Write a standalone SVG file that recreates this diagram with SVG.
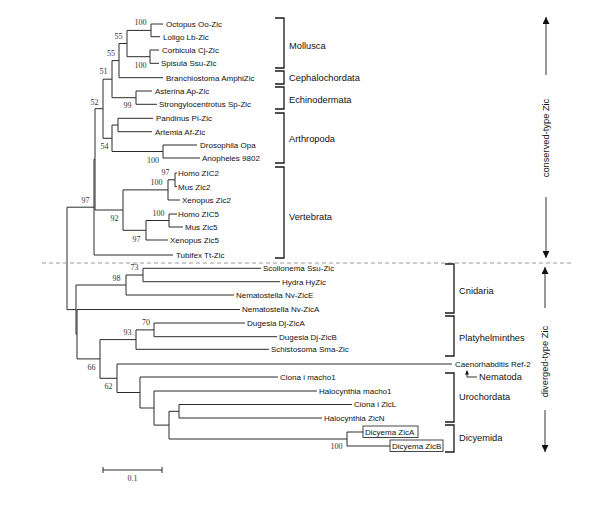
<svg xmlns="http://www.w3.org/2000/svg" width="600" height="512" viewBox="0 0 600 512">
<style>
.br{fill:none;stroke:#2a2a2a;stroke-width:1}
.bk{fill:none;stroke:#1a1a1a;stroke-width:1.3}
.lf{font-family:"Liberation Sans",Arial,sans-serif;font-size:8px;fill:#111}
.bs{font-family:"Liberation Serif","Times New Roman",serif;font-size:8px;fill:#333;text-anchor:middle}
.gp{font-family:"Liberation Sans",Arial,sans-serif;font-size:9.3px;fill:#111}
.ar{fill:none;stroke:#333;stroke-width:1}
.box{fill:#fff;stroke:#333;stroke-width:0.9}
</style>
<defs>
<marker id="ah" viewBox="0 0 10 10" refX="10" refY="5" markerWidth="9" markerHeight="7" markerUnits="userSpaceOnUse" orient="auto"><path d="M0,0 L10,5 L0,10 z" fill="#111"/></marker>
<marker id="ahs" viewBox="0 0 10 10" refX="10" refY="5" markerWidth="5" markerHeight="4" markerUnits="userSpaceOnUse" orient="auto"><path d="M0,0 L10,5 L0,10 z" fill="#111"/></marker>
</defs>
<rect width="600" height="512" fill="#fff"/>

<g id="connectors">
<!-- conserved clade -->
<path class="br" d="M151,24 V36.7 M151,24 H163 M151,36.7 H160"/>
<path class="br" d="M150,50 V63.3 M150,50 H159 M150,63.3 H159"/>
<path class="br" d="M127,30.4 V56.7 M127,30.4 H151 M127,56.7 H150"/>
<path class="br" d="M119,43.5 V77.7 M119,43.5 H127 M119,77.7 H163"/>
<path class="br" d="M136,91 V104.3 M136,91 H152 M136,104.3 H157"/>
<path class="br" d="M112,60.6 V97.7 M112,60.6 H119 M112,97.7 H136"/>
<path class="br" d="M118,118.3 V131.7 M118,118.3 H153 M118,131.7 H152"/>
<path class="br" d="M163,145 V158 M163,145 H197 M163,158 H200"/>
<path class="br" d="M112,125 V151.5 M112,125 H118 M112,151.5 H163"/>
<path class="br" d="M103,79.2 V138.3 M103,79.2 H112 M103,138.3 H112"/>
<path class="br" d="M175,173 V186.7 M175,173 H177 M175,186.7 H177"/>
<path class="br" d="M168,179.8 V200 M168,179.8 H175 M168,200 H180"/>
<path class="br" d="M169,214 V227 M169,214 H177 M169,227 H183"/>
<path class="br" d="M146,220.5 V240 M146,220.5 H169 M146,240 H168"/>
<path class="br" d="M123,189.9 V230.3 M123,189.9 H168 M123,230.3 H146"/>
<path class="br" d="M95,108.7 V210 M95,108.7 H103 M95,210 H123"/>
<path class="br" d="M94,159.4 V255 M94,159.4 H95 M94,255 H173"/>
<path class="br" d="M67,207.2 V309.6 M67,207.2 H94 M67,309.6 H76"/>
<!-- diverged clade -->
<path class="br" d="M143,268.3 V281.7 M143,268.3 H261 M143,281.7 H280"/>
<path class="br" d="M126,275 V295 M126,275 H143 M126,295 H234"/>
<path class="br" d="M154,323 V336.7 M154,323 H245 M154,336.7 H277"/>
<path class="br" d="M136,329.9 V349.3 M136,329.9 H154 M136,349.3 H269"/>
<path class="br" d="M179,404.5 V418 M179,404.5 H352 M179,418 H322"/>
<path class="br" d="M169,411.3 V439 M169,411.3 H179 M169,439 H347"/>
<path class="br" d="M347,432 V446 M347,432 H363 M347,446 H390"/>
<path class="br" d="M154,391 V425.1 M154,391 H317 M154,425.1 H169"/>
<path class="br" d="M140,377 V408 M140,377 H278 M140,408 H154"/>
<path class="br" d="M117,364 V392.5 M117,364 H452 M117,392.5 H140"/>
<path class="br" d="M100,339.6 V378.3 M100,339.6 H136 M100,378.3 H117"/>
<path class="br" d="M77,309.5 V358.9 M77,309.5 H240 M77,358.9 H100"/>
<path class="br" d="M76,285 V334.2 M76,285 H126 M76,334.2 H77"/>
<!-- divider -->
<line x1="42" y1="263" x2="573" y2="263" stroke="#9a9a9a" stroke-width="1" stroke-dasharray="4 3"/>
<!-- Nematoda pointer -->
<path class="ar" d="M477,377 H467 V370.5" marker-end="url(#ahs)"/>
<!-- type arrows -->
<line class="ar" x1="546" y1="75" x2="546" y2="17" marker-end="url(#ah)"/>
<line class="ar" x1="546" y1="197" x2="546" y2="258" marker-end="url(#ah)"/>
<line class="ar" x1="545" y1="308" x2="545" y2="267" marker-end="url(#ah)"/>
<line class="ar" x1="545" y1="410" x2="545" y2="452" marker-end="url(#ah)"/>
</g>

<g id="bootstrap">
<text class="bs" x="140.5" y="25.4">100</text>
<text class="bs" x="118.5" y="39.4">55</text>
<text class="bs" x="111" y="56">55</text>
<text class="bs" x="140.5" y="67.7">100</text>
<text class="bs" x="103.5" y="74.4">51</text>
<text class="bs" x="127.5" y="108.4">99</text>
<text class="bs" x="94.5" y="105.4">52</text>
<text class="bs" x="104.5" y="149.4">54</text>
<text class="bs" x="153" y="163.4">100</text>
<text class="bs" x="165.5" y="175.4">97</text>
<text class="bs" x="156.5" y="185.4">100</text>
<text class="bs" x="85.5" y="203.4">97</text>
<text class="bs" x="114.5" y="221">92</text>
<text class="bs" x="158.5" y="216">100</text>
<text class="bs" x="136.5" y="241.7">97</text>
<text class="bs" x="134.5" y="270.4">73</text>
<text class="bs" x="116.5" y="281">98</text>
<text class="bs" x="146" y="325.4">70</text>
<text class="bs" x="127.5" y="335.4">93</text>
<text class="bs" x="91.5" y="370">66</text>
<text class="bs" x="108.5" y="388.7">62</text>
<text class="bs" x="336.5" y="449.4">100</text>
</g>

<g id="leaf-octopus"><text class="lf" x="166" y="26.9">Octopus Oo-Zic</text></g>
<g id="leaf-loligo"><text class="lf" x="163" y="39.6">Loligo Lb-Zic</text></g>
<g id="leaf-corbicula"><text class="lf" x="162" y="52.9">Corbicula Cj-Zic</text></g>
<g id="leaf-spisula"><text class="lf" x="161" y="66.2">Spisula Ssu-Zic</text></g>
<g id="leaf-branchiostoma"><text class="lf" x="166" y="80.6">Branchiostoma AmphiZic</text></g>
<g id="leaf-asterina"><text class="lf" x="155" y="93.9">Asterina Ap-Zic</text></g>
<g id="leaf-strongylocentrotus"><text class="lf" x="159" y="107.2">Strongylocentrotus Sp-Zic</text></g>
<g id="leaf-pandinus"><text class="lf" x="156" y="121.2">Pandinus Pi-Zic</text></g>
<g id="leaf-artemia"><text class="lf" x="155" y="134.6">Artemia Af-Zic</text></g>
<g id="leaf-drosophila"><text class="lf" x="200" y="147.9">Drosophila Opa</text></g>
<g id="leaf-anopheles"><text class="lf" x="202" y="160.9">Anopheles 9802</text></g>
<g id="leaf-homo-zic2"><text class="lf" x="178" y="175.9">Homo ZIC2</text></g>
<g id="leaf-mus-zic2"><text class="lf" x="178" y="189.6">Mus Zic2</text></g>
<g id="leaf-xenopus-zic2"><text class="lf" x="182" y="202.9">Xenopus Zic2</text></g>
<g id="leaf-homo-zic5"><text class="lf" x="178" y="216.9">Homo ZIC5</text></g>
<g id="leaf-mus-zic5"><text class="lf" x="185" y="229.9">Mus Zic5</text></g>
<g id="leaf-xenopus-zic5"><text class="lf" x="170" y="242.9">Xenopus Zic5</text></g>
<g id="leaf-tubifex"><text class="lf" x="176" y="257.9">Tubifex Tt-Zic</text></g>

<g id="leaf-scolionema"><text class="lf" x="263" y="271.2">Scolionema Ssu-Zic</text></g>
<g id="leaf-hydra"><text class="lf" x="282" y="284.6">Hydra HyZic</text></g>
<g id="leaf-nematostella-e"><text class="lf" x="236" y="297.9">Nematostella Nv-ZicE</text></g>
<g id="leaf-nematostella-a"><text class="lf" x="242" y="312.4">Nematostella Nv-ZicA</text></g>
<g id="leaf-dugesia-a"><text class="lf" x="247" y="325.9">Dugesia Dj-ZicA</text></g>
<g id="leaf-dugesia-b"><text class="lf" x="279" y="339.6">Dugesia Dj-ZicB</text></g>
<g id="leaf-schistosoma"><text class="lf" x="271" y="352.2">Schistosoma Sma-Zic</text></g>
<g id="leaf-caenorhabditis"><text class="lf" x="455" y="366.9">Caenorhabditis Ref-2</text></g>
<g id="leaf-ciona-macho1"><text class="lf" x="280" y="379.9">Ciona i macho1</text></g>
<g id="leaf-halocynthia-macho1"><text class="lf" x="319" y="393.9">Halocynthia macho1</text></g>
<g id="leaf-ciona-zicl"><text class="lf" x="354" y="407.4">Ciona i ZicL</text></g>
<g id="leaf-halocynthia-zicn"><text class="lf" x="324" y="420.9">Halocynthia ZicN</text></g>
<g id="leaf-dicyema-a"><rect class="box" x="363" y="426" width="55" height="11.5"/><text class="lf" x="365" y="434.9">Dicyema ZicA</text></g>
<g id="leaf-dicyema-b"><rect class="box" x="390" y="440" width="53" height="11.5"/><text class="lf" x="392" y="448.9">Dicyema ZicB</text></g>

<g id="group-mollusca"><path class="bk" d="M275,18 H284 V68 H275"/><text class="gp" x="289" y="49">Mollusca</text></g>
<g id="group-cephalochordata"><path class="bk" d="M275,71 H284 V84 H275"/><text class="gp" x="289" y="81.3">Cephalochordata</text></g>
<g id="group-echinodermata"><path class="bk" d="M275,87 H284 V109 H275"/><text class="gp" x="289" y="102.6">Echinodermata</text></g>
<g id="group-arthropoda"><path class="bk" d="M275,113 H284 V163 H275"/><text class="gp" x="289" y="142.3">Arthropoda</text></g>
<g id="group-vertebrata"><path class="bk" d="M275,167 H284 V258 H275"/><text class="gp" x="289" y="220.3">Vertebrata</text></g>
<g id="group-cnidaria"><path class="bk" d="M445,264 H454 V313 H445"/><text class="gp" x="459" y="294.3">Cnidaria</text></g>
<g id="group-platyhelminthes"><path class="bk" d="M445,316 H454 V356 H445"/><text class="gp" x="459" y="341.3">Platyhelminthes</text></g>
<g id="group-nematoda"><text class="gp" x="479" y="380">Nematoda</text></g>
<g id="group-urochordata"><path class="bk" d="M445,373 H454 V422 H445"/><text class="gp" x="459" y="400.3">Urochordata</text></g>
<g id="group-dicyemida"><path class="bk" d="M445,425 H454 V452 H445"/><text class="gp" x="459" y="441.3">Dicyemida</text></g>

<g id="type-conserved"><text class="gp" transform="translate(546,138) rotate(-90)" text-anchor="middle" y="3.3">conserved-type Zic</text></g>
<g id="type-diverged"><text class="gp" transform="translate(545,361.5) rotate(-90)" text-anchor="middle" y="3.3">diverged-type Zic</text></g>

<g id="scale-bar">
<path class="br" d="M103,470 H162 M103,467 V473 M162,467 V473"/>
<text class="bs" x="132.5" y="481">0.1</text>
</g>
</svg>
